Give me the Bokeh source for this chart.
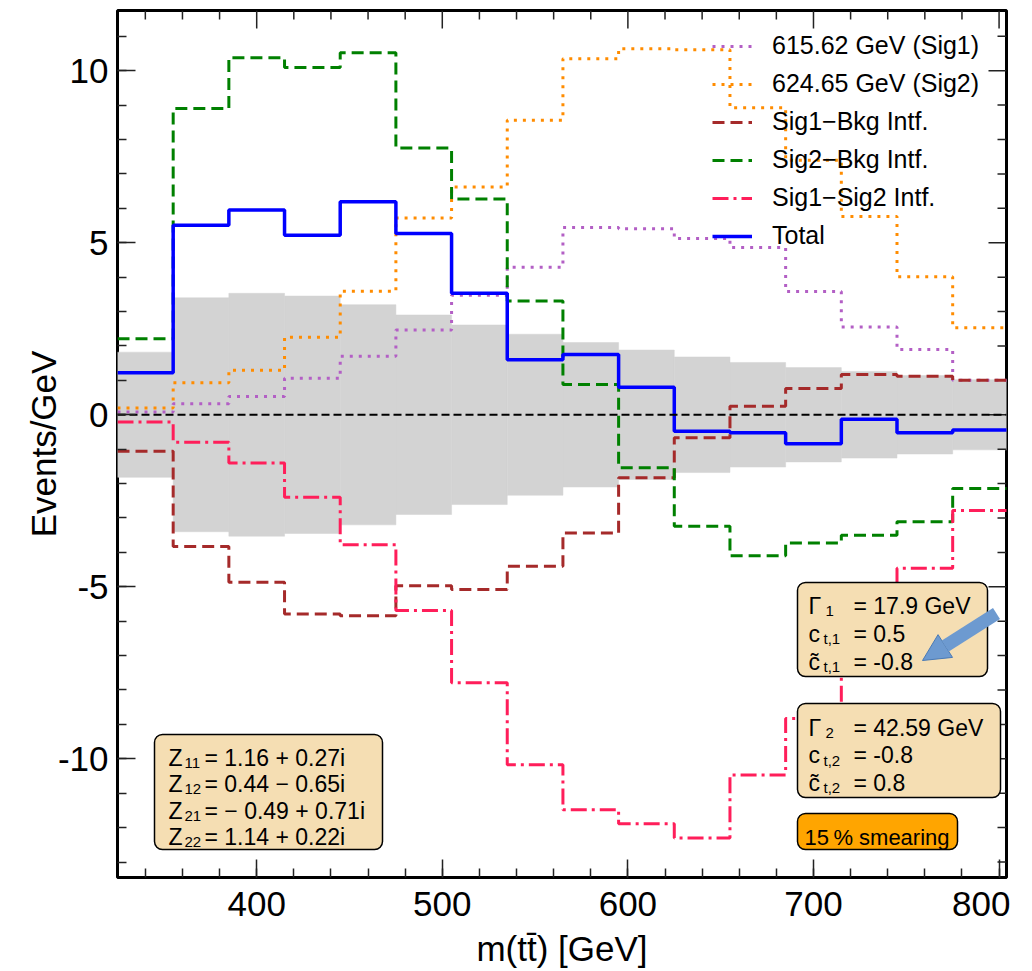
import numpy as np
from bokeh.plotting import figure
from bokeh.models import (Range1d, SingleIntervalTicker, Legend, LegendItem,
                          BoxAnnotation, Label, Arrow, NormalHead, Span)
from bokeh.embed import file_html
from bokeh.resources import INLINE

# ---------------- data ----------------
bin_edges = [325, 355, 385, 415, 445, 475, 505, 535, 565, 595, 625, 655, 685, 715, 745, 775, 805]
sig1 = [0.08, 0.32, 0.53, 1.06, 1.70, 2.46, 3.47, 4.29, 5.44, 5.41, 5.12, 4.86, 3.58, 2.55, 1.90, 1.00]
sig2 = [0.20, 0.93, 1.29, 2.25, 3.59, 5.72, 6.62, 8.56, 10.35, 10.64, 10.61, 8.92, 7.40, 5.76, 4.01, 2.53]
sig1_bkg = [-1.06, -3.83, -4.87, -5.79, -5.84, -4.97, -5.08, -4.40, -3.44, -1.83, -0.67, 0.25, 0.76, 1.17, 1.12, 1.00]
sig2_bkg = [2.21, 8.90, 10.38, 10.09, 10.52, 7.75, 6.27, 3.31, 0.88, -1.54, -3.24, -4.10, -3.73, -3.50, -3.11, -2.14]
sig1_sig2 = [-0.21, -0.80, -1.40, -2.40, -3.78, -5.69, -7.79, -10.17, -11.48, -11.89, -12.30, -10.47, -8.83, -6.40, -4.46, -2.78]
total = [1.22, 5.51, 5.95, 5.22, 6.19, 5.27, 3.53, 1.60, 1.75, 0.80, -0.48, -0.52, -0.84, -0.13, -0.52, -0.44]
band = [1.82, 3.40, 3.53, 3.45, 3.20, 2.90, 2.61, 2.34, 2.10, 1.88, 1.68, 1.52, 1.37, 1.26, 1.14, 1.02]

legend_labels = ["615.62 GeV (Sig1)", "624.65 GeV (Sig2)", "Sig1\u2212Bkg Intf.",
                 "Sig2\u2212Bkg Intf.", "Sig1\u2212Sig2 Intf.", "Total"]

z_subs = ["11", "12", "21", "22"]
z_vals = ["= 1.16 + 0.27i", "= 0.44 \u2212 0.65i", "=  \u2212 0.49 + 0.71i", "= 1.14 + 0.22i"]
box1_rows = [("\u0393", "1", "= 17.9 GeV"), ("c", "t,1", "= 0.5"), ("c\u0303", "t,1", "= -0.8")]
box2_rows = [("\u0393", "2", "= 42.59 GeV"), ("c", "t,2", "= -0.8"), ("c\u0303", "t,2", "= 0.8")]
smear_text = "15\u2009% smearing"

# ---------------- layout constants ----------------
XLO, XHI = 325, 804
YLO, YHI = -13.45, 11.75
FX, FY, FW, FH = 117, 10, 889, 867   # frame position on page (px)
FONT = "Liberation Sans"
PXX = FW / (XHI - XLO)   # px per GeV
PXY = FH / (YHI - YLO)   # px per unit


def px_x(px):
    return XLO + (px - FX) / PXX


def px_y(py):
    return YHI - (py - FY) / PXY


W, H = 1010, 971
p = figure(width=W, height=H, output_backend="svg", toolbar_location=None,
           x_range=Range1d(XLO, XHI), y_range=Range1d(YLO, YHI),
           min_border_left=FX, min_border_top=FY, min_border_right=W - FX - FW,
           min_border_bottom=H - FY - FH,
           x_axis_label="m(tt\u0304) [GeV]", y_axis_label="Events/GeV")
p.grid.visible = False
p.outline_line_color = "black"
p.outline_line_width = 3
p.background_fill_color = "white"
p.border_fill_color = "white"

p.xaxis.ticker = SingleIntervalTicker(interval=100, num_minor_ticks=5)
p.yaxis.ticker = SingleIntervalTicker(interval=5, num_minor_ticks=5)
p.yaxis.major_label_overrides = {-5: "-5", -10: "-10"}

for ax in (p.xaxis[0], p.yaxis[0]):
    ax.axis_line_color = None
    ax.major_tick_in = 18
    ax.major_tick_out = 0
    ax.minor_tick_in = 9
    ax.minor_tick_out = 0
    ax.major_tick_line_color = "#222222"
    ax.minor_tick_line_color = "#222222"
    ax.major_tick_line_width = 1.5
    ax.minor_tick_line_width = 1.5
    ax.major_label_text_font = FONT
    ax.major_label_text_font_size = "35px"
    ax.major_label_text_color = "black"
    ax.axis_label_text_font = FONT
    ax.axis_label_text_font_size = "35px"
    ax.axis_label_text_font_style = "normal"
    ax.axis_label_text_color = "black"
p.xaxis.major_label_standoff = 14
p.xaxis.axis_label_standoff = 10
p.yaxis.major_label_standoff = 9
p.yaxis.axis_label_standoff = -8

# mirrored ticks on top and right edges of the frame
tx = np.arange(340, XHI + 0.1, 20)
tlen = np.where(tx % 100 == 0, 18, 9) / PXY
p.segment(x0=tx, x1=tx, y0=np.full(len(tx), YHI), y1=YHI - tlen,
          line_color="#222222", line_width=1.5)
ty = np.arange(-13, 12, 1)
rlen = np.where(ty % 5 == 0, 18, 9) / PXX
p.segment(x0=np.full(len(ty), XHI), x1=XHI - rlen, y0=ty, y1=ty,
          line_color="#222222", line_width=1.5)

# ---------------- uncertainty band ----------------
edges = np.array(bin_edges, dtype=float)
bw = np.array(band)
p.quad(left=edges[:-1], right=edges[1:], top=bw, bottom=-bw,
       fill_color="#d3d3d3", line_color="#d3d3d3", line_width=0.5, level="underlay")

p.add_layout(Span(location=0, dimension="width", line_color="black", line_width=2,
                  line_dash="8 4", level="glyph"))


def stepline(vals, color, dash, width):
    y = list(vals) + [vals[-1]]
    return p.step(x=bin_edges, y=y, mode="after", line_color=color, line_width=width,
                  line_dash=dash)


r_s1 = stepline(sig1, "#b35fc5", "3 6", 3)
r_s2 = stepline(sig2, "#ff8c00", "3 6", 3)
r_b1 = stepline(sig1_bkg, "#a52a2a", "12 6", 3)
r_b2 = stepline(sig2_bkg, "#008000", "12 6", 3)
r_12 = stepline(sig1_sig2, "#ff1e5a", "16 5 3 5", 3)
r_t = stepline(total, "#0000ff", "solid", 3.5)

items = [LegendItem(label=l, renderers=[r]) for l, r in
         zip(legend_labels, [r_s1, r_s2, r_b1, r_b2, r_12, r_t])]
leg = Legend(items=items, location=(595, 627), padding=0, margin=0, spacing=9,
             glyph_width=40, glyph_height=20, label_height=20, label_standoff=20,
             label_text_font=FONT, label_text_font_size="25px", label_text_color="black",
             border_line_alpha=0, background_fill_alpha=0)
p.add_layout(leg, "center")


# ---------------- info boxes ----------------
def box(l, r, t, b, color):
    p.add_layout(BoxAnnotation(left=px_x(l), right=px_x(r), top=px_y(t), bottom=px_y(b),
                               fill_color=color, fill_alpha=1, line_color="black",
                               line_alpha=1, line_width=1.5, border_radius=8))


def lab(x, y, text, size):
    p.add_layout(Label(x=px_x(x), y=px_y(y), text=text, text_font=FONT,
                       text_font_size=size, text_baseline="alphabetic", text_color="black"))


box(154, 382, 734, 849, "#f5deb3")
for i, (s, v) in enumerate(zip(z_subs, z_vals)):
    base = 757.3 + i * 26.5
    lab(168, base, "Z", "23px")
    lab(184, base + 5, s, "15px")
    lab(204, base, v, "23px")

box(797, 987, 582, 676, "#f5deb3")
for i, (m, s, v) in enumerate(box1_rows):
    base = 605 + i * 28
    lab(808, base, m, "23px")
    lab(825 if i == 0 else 823, base + 5, s, "15px")
    lab(853, base, v, "23px")

box(797, 1000, 703, 797, "#f5deb3")
for i, (m, s, v) in enumerate(box2_rows):
    base = 727 + i * 27.5
    lab(808, base, m, "23px")
    lab(825 if i == 0 else 823, base + 5, s, "15px")
    lab(853, base, v, "23px")

box(797, 957, 813, 849, "#ffa500")
lab(804, 837, smear_text, "22px")

p.add_layout(Arrow(x_start=px_x(996), y_start=px_y(613), x_end=px_x(922), y_end=px_y(660),
                   line_color="#6d9ad0", line_width=13,
                   end=NormalHead(size=27, fill_color="#6d9ad0", line_color="#4a7ab5",
                                  line_width=1)))

open("out.html", "w").write(file_html(p, INLINE))
